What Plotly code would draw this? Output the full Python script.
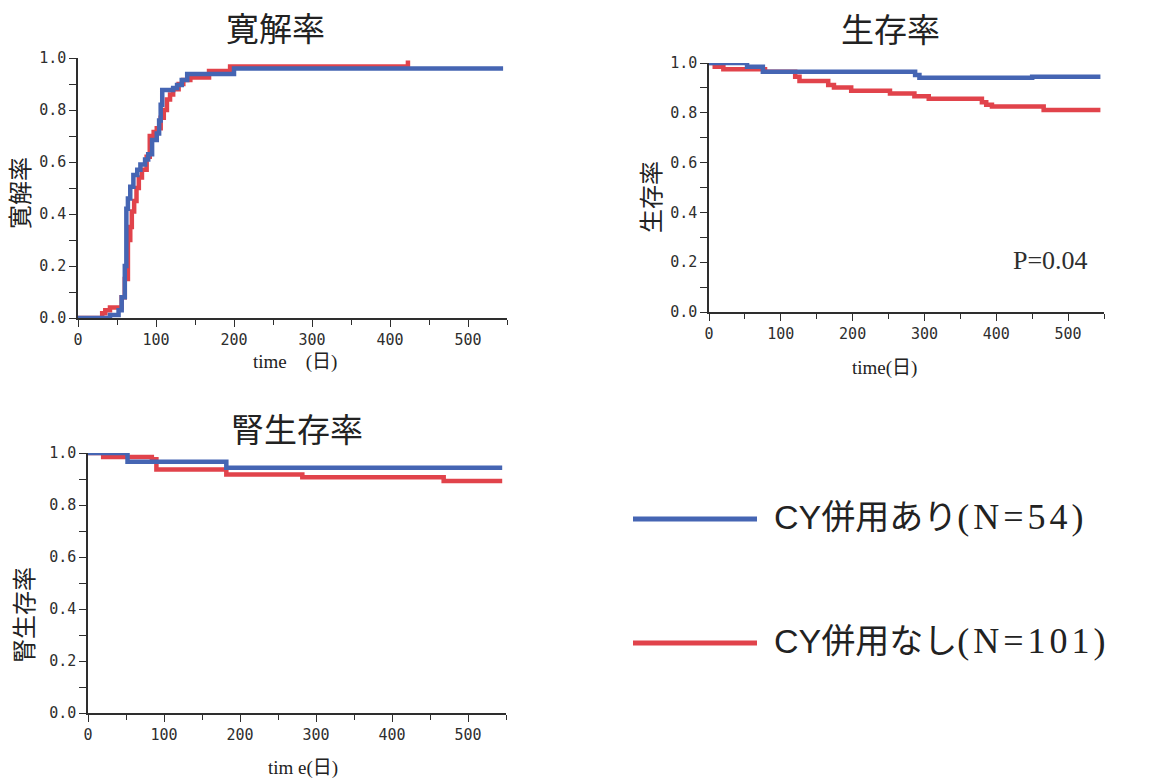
import plotly.graph_objects as go

W, H = 1154, 779

# ---- data (days, rate) ----
# Cumulative remission
rem_days_cy = [0, 41, 52, 56, 60, 62, 64, 67, 71, 76, 80, 86, 90, 95, 101, 104, 106, 108, 122, 127, 133, 140, 200, 545]
rem_rate_cy = [0, 0.012, 0.03, 0.08, 0.20, 0.42, 0.46, 0.505, 0.55, 0.57, 0.59, 0.61, 0.63, 0.685, 0.71, 0.76, 0.82, 0.877, 0.885, 0.896, 0.915, 0.938, 0.960, 0.960]
rem_days_no = [0, 31, 35, 41, 56, 60, 64, 67, 69, 72, 75, 78, 82, 88, 92, 97, 101, 106, 110, 114, 118, 122, 129, 135, 144, 168, 195, 423]
rem_rate_no = [0, 0.018, 0.03, 0.04, 0.08, 0.15, 0.30, 0.35, 0.41, 0.45, 0.50, 0.54, 0.57, 0.62, 0.70, 0.715, 0.73, 0.77, 0.80, 0.84, 0.86, 0.88, 0.90, 0.915, 0.925, 0.95, 0.967, 0.99]

# Overall survival
surv_days_cy = [0, 53, 75, 287, 293, 450, 545]
surv_rate_cy = [1.0, 0.985, 0.965, 0.952, 0.941, 0.945, 0.945]
surv_days_no = [0, 8, 20, 78, 120, 126, 166, 174, 198, 252, 286, 306, 380, 386, 394, 466, 545]
surv_rate_no = [1.0, 0.985, 0.975, 0.965, 0.945, 0.928, 0.912, 0.902, 0.889, 0.878, 0.866, 0.856, 0.842, 0.832, 0.825, 0.811, 0.811]

# Renal survival
renal_days_cy = [0, 52, 182, 545]
renal_rate_cy = [1.0, 0.966, 0.943, 0.943]
renal_days_no = [0, 20, 84, 90, 182, 282, 468, 545]
renal_rate_no = [1.0, 0.985, 0.976, 0.937, 0.917, 0.907, 0.892, 0.892]

SERIES = ["CY併用あり(N=54)", "CY併用なし(N=101)"]
PANEL_TITLES = ["寛解率", "生存率", "腎生存率"]
Y_TITLES = ["寛解率", "生存率", "腎生存率"]
X_TITLES = ["time\u3000(日)", "time(日)", "tim e(日)"]
Y_TICKS = [0, 0.2, 0.4, 0.6, 0.8, 1.0]
Y_TICK_TEXT = ["0.0", "0.2", "0.4", "0.6", "0.8", "1.0"]
X_TICKS = [0, 100, 200, 300, 400, 500]
X_TICK_TEXT = ["0", "100", "200", "300", "400", "500"]
P_LABEL = "P=0.04"

COLORS = ["#4565b3", "#e1434b"]
AXIS_C = "#2e2e2e"
TEXT_C = "#222222"
CJK = "Noto Sans CJK JP"
MONO = "DejaVu Sans Mono"
SERIF = "Liberation Serif"


def px(x):
    return x / W


def py(y):
    return 1 - y / H


def note(x, y, text, font, **kw):
    d = dict(x=px(x), y=py(y), xref="paper", yref="paper", text=text, showarrow=False,
             xanchor="center", yanchor="middle", font=font)
    d.update(kw)
    return d


# panel boxes in pixels: left, top, right, bottom
panels = [
    dict(box=(78, 58, 507, 318), data=[(rem_days_cy, rem_rate_cy), (rem_days_no, rem_rate_no)],
         title=(275, 27), ytitle=(18, 193), xtitle=(295, 362)),
    dict(box=(709, 63, 1104, 312), data=[(surv_days_cy, surv_rate_cy), (surv_days_no, surv_rate_no)],
         title=(890, 28), ytitle=(650, 197), xtitle=(884, 368)),
    dict(box=(88, 453, 506, 713), data=[(renal_days_cy, renal_rate_cy), (renal_days_no, renal_rate_no)],
         title=(297, 428), ytitle=(22, 615), xtitle=(303, 768)),
]

fig = go.Figure()
annotations = []
shapes = []
layout_axes = {}

for i, p in enumerate(panels):
    n = "" if i == 0 else str(i + 1)
    l, t, r, b = p["box"]
    layout_axes["xaxis" + n] = dict(
        domain=[px(l), px(r)], range=[0, 550], anchor="y" + n,
        showline=True, linecolor=AXIS_C, linewidth=1.5,
        ticks="outside", ticklen=7, tickwidth=1.3, tickcolor=AXIS_C,
        tickvals=X_TICKS, ticktext=X_TICK_TEXT,
        tickfont=dict(family=MONO, size=15, color=AXIS_C),
        minor=dict(dtick=50, tick0=0, ticks="outside", ticklen=5, tickwidth=1.2, tickcolor=AXIS_C),
        showgrid=False, zeroline=False, automargin=False,
    )
    layout_axes["yaxis" + n] = dict(
        domain=[py(b), py(t)], range=[0, 1.0], anchor="x" + n,
        showline=True, linecolor=AXIS_C, linewidth=1.5,
        ticks="outside", ticklen=7, tickwidth=1.3, tickcolor=AXIS_C,
        tickvals=Y_TICKS, ticktext=Y_TICK_TEXT,
        tickfont=dict(family=MONO, size=15, color=AXIS_C),
        minor=dict(dtick=0.1, tick0=0, ticks="outside", ticklen=7, tickwidth=1.2, tickcolor=AXIS_C),
        showgrid=False, zeroline=False, automargin=False,
    )
    # draw the "without CY" curve first so the "with CY" curve sits on top
    for k in (1, 0):
        days, rate = p["data"][k]
        fig.add_trace(go.Scatter(
            x=days, y=rate, mode="lines", line=dict(color=COLORS[k], width=4.5, shape="hv"),
            name=SERIES[k], showlegend=False, cliponaxis=False,
            xaxis="x" + n, yaxis="y" + n,
        ))
    annotations.append(note(*p["title"], PANEL_TITLES[i], dict(family=CJK, size=33, color=TEXT_C)))
    annotations.append(note(*p["ytitle"], Y_TITLES[i], dict(family=CJK, size=24, color=TEXT_C),
                            textangle=-90))
    annotations.append(note(*p["xtitle"], X_TITLES[i],
                            dict(family=SERIF + ", " + CJK, size=19, color=TEXT_C)))

annotations.append(note(1050, 260, P_LABEL, dict(family=SERIF, size=26, color=AXIS_C)))

# legend: long line samples with mixed-font labels
legend_rows = [519, 643]
for k, name in enumerate(SERIES):
    yk = legend_rows[k]
    shapes.append(dict(type="line", xref="paper", yref="paper", x0=px(633), x1=px(757),
                       y0=py(yk), y1=py(yk), line=dict(color=COLORS[k], width=5)))
    head, tail = name.split("(", 1)
    label = (head + '<span style="font-family:Liberation Serif;font-size:36px;letter-spacing:4px">('
             + tail + "</span>")
    annotations.append(note(772, yk - 2, label, dict(family="Liberation Sans, " + CJK, size=34, color=TEXT_C),
                            xanchor="left"))

fig.update_layout(
    width=W, height=H, margin=dict(l=0, r=0, t=0, b=0, autoexpand=False),
    paper_bgcolor="white", plot_bgcolor="white",
    showlegend=False, annotations=annotations, shapes=shapes,
    **layout_axes,
)

fig.write_html("out.html")
